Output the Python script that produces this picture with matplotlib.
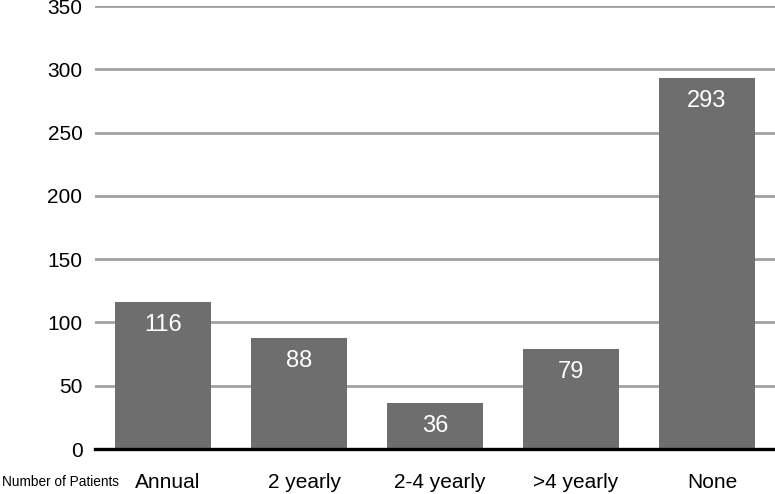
import matplotlib
matplotlib.use('Agg')
import matplotlib.pyplot as plt
import matplotlib.transforms as mtransforms

plt.rcParams['font.family'] = ['Liberation Sans', 'DejaVu Sans']

categories = ["Annual", "2 yearly", "2-4 yearly", ">4 yearly", "None"]
patients = [116, 88, 36, 79, 293]
yticks = [0, 50, 100, 150, 200, 250, 300, 350]

fig = plt.figure(figsize=(7.75, 4.94), dpi=100)
ax = fig.add_axes([95 / 775, 1 - 449 / 494, 680 / 775, 443 / 494])

x = list(range(len(categories)))
ax.bar(x, patients, width=0.71, color="#6e6e6e", zorder=2)

for xi, v in zip(x, patients):
    ax.annotate(str(v), (xi, v), xytext=(0, -16.5), textcoords="offset points",
                ha="center", va="center", color="white", fontsize=17, zorder=3)

ax.set_xlim(-0.5, len(categories) - 0.5)
ax.set_ylim(0, 350)
ax.set_yticks(yticks)
ax.set_xticks(x)
ax.set_xticklabels(categories)
ax.yaxis.grid(True, color="#a0a0a0", linewidth=2, zorder=1)
ax.tick_params(axis="both", length=0, labelsize=15, colors="black")
ax.tick_params(axis="y", pad=9)
ax.tick_params(axis="x", pad=17)
# category labels sit a little right of the bar centres in the original
shift = mtransforms.ScaledTranslation(5 / 100, 0, fig.dpi_scale_trans)
for lbl in ax.get_xticklabels():
    lbl.set_transform(lbl.get_transform() + shift)
for side in ["top", "right", "left"]:
    ax.spines[side].set_visible(False)
ax.spines["bottom"].set_linewidth(2.4)
ax.spines["bottom"].set_zorder(4)

fig.text(2 / 775, 1 - 482 / 494, "Number of Patients", fontsize=9.8, va="center", ha="left")

fig.savefig("out.png", dpi=100)
